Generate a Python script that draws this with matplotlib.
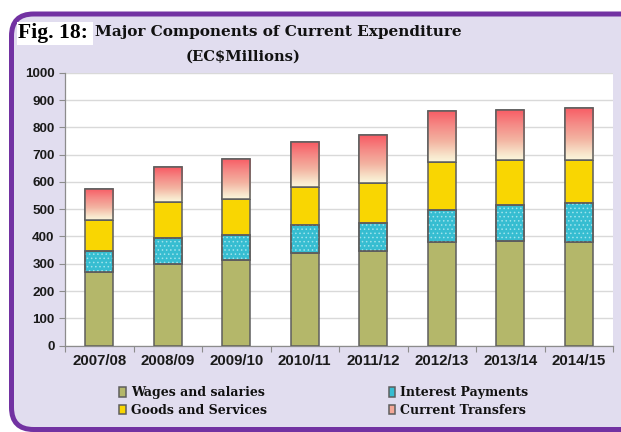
import numpy as np
import matplotlib
matplotlib.use("Agg")
import matplotlib.pyplot as plt
from matplotlib.patches import Rectangle, PathPatch
from matplotlib.path import Path
from matplotlib.colors import LinearSegmentedColormap
from matplotlib.transforms import Affine2D

# ---- data ----
years = ["2007/08", "2008/09", "2009/10", "2010/11", "2011/12", "2012/13", "2013/14", "2014/15"]
wages = [268, 298, 314, 341, 348, 378, 382, 378]
interest = [78, 96, 92, 102, 103, 121, 134, 145]
goods = [113, 134, 131, 138, 146, 173, 165, 158]
transfers = [117, 127, 149, 164, 175, 189, 184, 191]
series_names = ["Wages and salaries", "Interest Payments", "Goods and Services", "Current Transfers"]
yticks = [0, 100, 200, 300, 400, 500, 600, 700, 800, 900, 1000]

W, H = 621, 432
fig = plt.figure(figsize=(W / 100, H / 100), dpi=100)
fig.patch.set_facecolor("white")

# pixel transform (origin top-left, y down) in figure coordinates
pix = Affine2D().scale(1.0 / W, -1.0 / H).translate(0, 1) + fig.transFigure

# background frame: lavender fill and purple border on left/top/bottom
L, T, B, R, r = 11.5, 14.0, 429.5, 700.0, 22.0
fill_verts = [(R, T), (L + r, T), (L, T), (L, T + r), (L, B - r), (L, B), (L + r, B), (R, B), (R, T)]
fill_codes = [Path.MOVETO, Path.LINETO, Path.CURVE3, Path.CURVE3, Path.LINETO, Path.CURVE3,
              Path.CURVE3, Path.LINETO, Path.CLOSEPOLY]
fig.patches.append(PathPatch(Path(fill_verts, fill_codes), transform=pix, facecolor="#E1DDEF",
                             edgecolor="none", zorder=0))
line_codes = fill_codes[:-1]
line_codes[0] = Path.MOVETO
fig.patches.append(PathPatch(Path(fill_verts[:-1], line_codes), transform=pix, facecolor="none",
                             edgecolor="#7232A2", linewidth=3.6, zorder=0.5))

# title
fig.patches.append(Rectangle((17, 22), 76, 23, transform=pix,
                             facecolor="white", edgecolor="none", zorder=1))
fig.text(18 / W, (H - 33) / H, "Fig. 18:", family="Liberation Serif", weight="bold",
         fontsize=15.6, va="center", ha="left", color="black", zorder=2)
fig.text(95 / W, (H - 32) / H, "Major Components of Current Expenditure", family="DejaVu Serif",
         weight="bold", fontsize=11.0, va="center", ha="left", color="#111111", zorder=2)
fig.text(243 / W, (H - 57) / H, "(EC$Millions)", family="DejaVu Serif",
         weight="bold", fontsize=10.6, va="center", ha="center", color="#111111", zorder=2)

ax = fig.add_axes([65 / W, (H - 345.5) / H, (613 - 65) / W, (345.5 - 73) / H])
ax.set_facecolor("white")
ax.set_zorder(3)

x = np.arange(len(years))
bw = 0.41
edge = "#5E5E5E"
lw = 1.1

wages_a = np.array(wages)
interest_a = np.array(interest)
goods_a = np.array(goods)
transfers_a = np.array(transfers)
b1 = wages_a
b2 = b1 + interest_a
b3 = b2 + goods_a

c1 = ax.bar(x, wages_a, bw, color="#B4B76A", edgecolor=edge, linewidth=lw, zorder=3, label=series_names[0])
c2 = ax.bar(x, interest_a, bw, bottom=b1, color="#36BDD1", edgecolor=edge, linewidth=lw, zorder=3,
            label=series_names[1])
plt.rcParams["hatch.linewidth"] = 0.6
ax.bar(x, interest_a, bw, bottom=b1, facecolor="none", edgecolor="#9EE3EC", hatch="....",
       linewidth=0, zorder=3.5)
ax.bar(x, interest_a, bw, bottom=b1, facecolor="none", edgecolor=edge, linewidth=lw, zorder=3.6)
c3 = ax.bar(x, goods_a, bw, bottom=b2, color="#F9D602", edgecolor=edge, linewidth=lw, zorder=3,
            label=series_names[2])
c4 = ax.bar(x, transfers_a, bw, bottom=b3, color="#F4A898", edgecolor=edge, linewidth=lw, zorder=3,
            label=series_names[3])

cmap = LinearSegmentedColormap.from_list(
    "tr", [(0.0, "#FBF6DC"), (0.12, "#F8E6CC"), (0.4, "#F3B3A1"), (0.7, "#F58A86"), (1.0, "#F85A63")])
grad = np.linspace(0, 1, 256).reshape(-1, 1)
for rect in c4.patches:
    x0, y0 = rect.get_x(), rect.get_y()
    im = ax.imshow(grad, cmap=cmap, origin="lower", aspect="auto",
                   extent=[x0, x0 + rect.get_width(), y0, y0 + rect.get_height()], zorder=3.2)
    im.set_clip_path(rect)
    ax.bar(x0 + rect.get_width() / 2, rect.get_height(), rect.get_width(), bottom=y0,
           facecolor="none", edgecolor=edge, linewidth=lw, zorder=3.6)

ax.set_xlim(-0.5, len(years) - 0.5)
ax.set_ylim(0, 1000)
ax.set_yticks(yticks)
ax.set_yticklabels([str(v) for v in yticks], family="Liberation Sans", weight="bold",
                   fontsize=9.7, color="#1A1A1A")
ax.yaxis.grid(True, color="#D9D9D9", linewidth=1.0, zorder=0)
ax.set_axisbelow(True)

ax.set_xticks(np.arange(-0.5, len(years), 1.0))
ax.set_xticklabels([])
ax.set_xticks(x, minor=True)
ax.set_xticklabels(years, minor=True, family="Liberation Sans", weight="bold",
                   fontsize=10.8, color="#1A1A1A")
ax.tick_params(axis="x", which="major", length=4, color="#8C8C8C", width=0.8, direction="out")
ax.tick_params(axis="x", which="minor", length=0, pad=6)
ax.tick_params(axis="y", length=4, color="#8C8C8C", width=0.8, pad=3.5)

for s in ["top", "right"]:
    ax.spines[s].set_visible(False)
for s in ["left", "bottom"]:
    ax.spines[s].set_color("#8C8C8C")
    ax.spines[s].set_linewidth(0.9)

leg = fig.legend(handles=[c1, c3, c2, c4],
                 labels=[series_names[0], series_names[2], series_names[1], series_names[3]],
                 ncol=2, loc="center", bbox_to_anchor=(324 / W, (H - 401.5) / H),
                 frameon=False, borderpad=0, handlelength=0.5, handleheight=0.8,
                 handletextpad=0.45, columnspacing=9.7, labelspacing=0.35,
                 prop={"family": "DejaVu Serif", "weight": "bold", "size": 9})
for t in leg.get_texts():
    t.set_color("#111111")

fig.savefig("out.png", dpi=100, facecolor=fig.get_facecolor())
